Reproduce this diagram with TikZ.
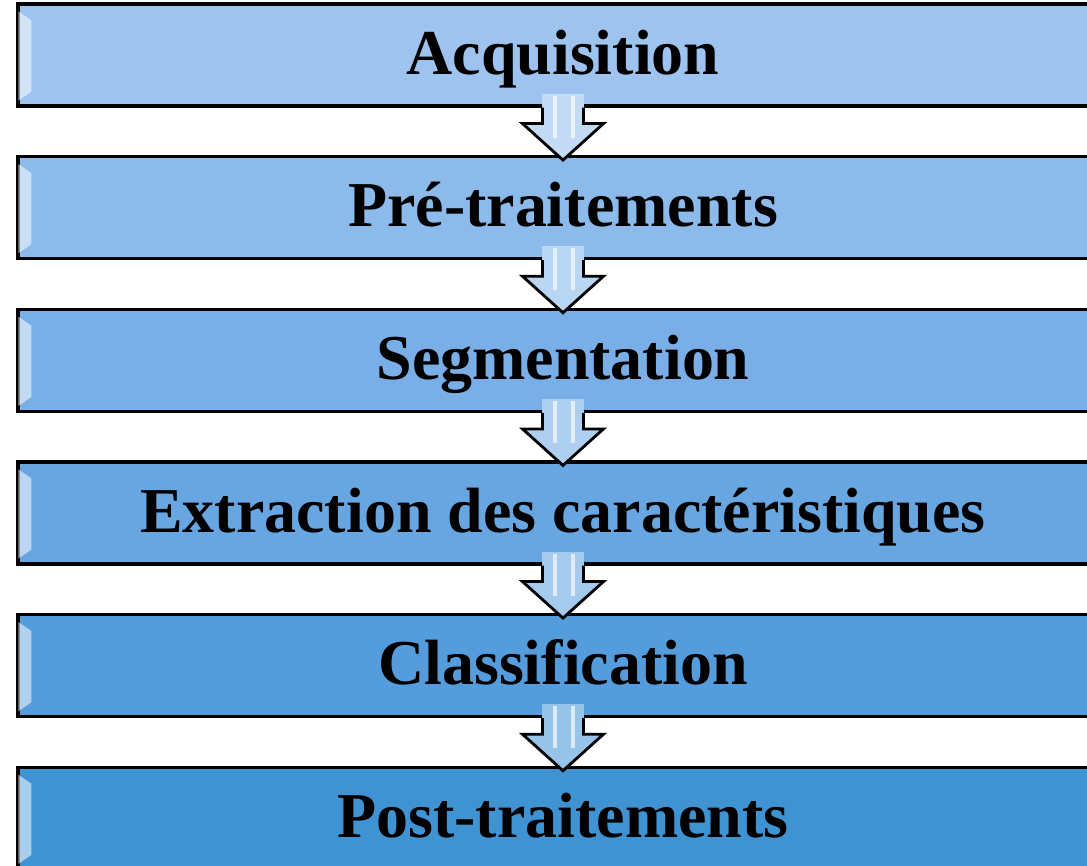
\documentclass[tikz,border=0pt]{standalone}
\usepackage{fontspec}
\setmainfont{Liberation Serif}
\usetikzlibrary{positioning}

\definecolor{stepA}{RGB}{157,195,238}
\definecolor{stepB}{RGB}{139,186,235}
\definecolor{stepC}{RGB}{121,175,230}
\definecolor{stepD}{RGB}{104,166,225}
\definecolor{stepE}{RGB}{84,156,219}
\definecolor{stepF}{RGB}{63,147,211}

\begin{document}
\begin{tikzpicture}[
  font=\fontsize{18.2}{21}\selectfont\bfseries,
  stage/.style={
    draw=black,
    line width=0.9pt,
    fill=#1,
    minimum width=10.9cm,
    minimum height=1.02cm,
    inner sep=0pt,
    text height=11pt,
    text depth=0pt
  },
  bevel/.style={fill=white, opacity=0.55},
  flowarrow/.style={draw=black, line width=0.8pt, line join=miter},
  shine/.style={draw=white, line width=1.4pt, opacity=0.65}
]
\useasboundingbox (0,0) rectangle (10.87,-8.66);

% Processing chain, top to bottom.
\node[stage=stepA] (acq) at (5.63,-0.55) {Acquisition};
\node[stage=stepB, below=0.475cm of acq] (pre) {Pré-traitements};
\node[stage=stepC, below=0.475cm of pre] (seg) {Segmentation};
\node[stage=stepD, below=0.475cm of seg] (ext) {Extraction des caractéristiques};
\node[stage=stepE, below=0.475cm of ext] (cls) {Classification};
\node[stage=stepF, below=0.475cm of cls] (post) {Post-traitements};

% Light bevel on the left edge of each stage.
\foreach \n in {acq,pre,seg,ext,cls,post}
  \fill[bevel] ([xshift=0.02cm,yshift=-0.09cm]\n.north west)
    -- ([xshift=0.15cm,yshift=-0.18cm]\n.north west)
    -- ([xshift=0.15cm,yshift=0.16cm]\n.south west)
    -- ([xshift=0.02cm,yshift=0.07cm]\n.south west) -- cycle;

% Block arrows between consecutive stages.
\foreach \a/\b/\c in {acq/pre/stepA, pre/seg/stepB, seg/ext/stepC,
                      ext/cls/stepD, cls/post/stepE} {
  \fill[\c!60!white] ([xshift=-0.205cm,yshift=0.14cm]\a.south)
    rectangle ([xshift=0.205cm]\a.south);
  \filldraw[flowarrow, fill=\c!60!white] ([xshift=-0.205cm]\a.south)
    -- ++(0,-0.16) -- ++(-0.2,0)
    -- ([yshift=-0.05cm]\b.north)
    -- ([xshift=0.405cm,yshift=-0.16cm]\a.south) -- ++(-0.2,0)
    -- ([xshift=0.205cm]\a.south);
  \draw[shine] ([xshift=-0.08cm,yshift=0.12cm]\a.south)
    -- ([xshift=-0.08cm,yshift=-0.3cm]\a.south);
  \draw[shine] ([xshift=0.1cm,yshift=0.12cm]\a.south)
    -- ([xshift=0.1cm,yshift=-0.3cm]\a.south);
}
\end{tikzpicture}
\end{document}
